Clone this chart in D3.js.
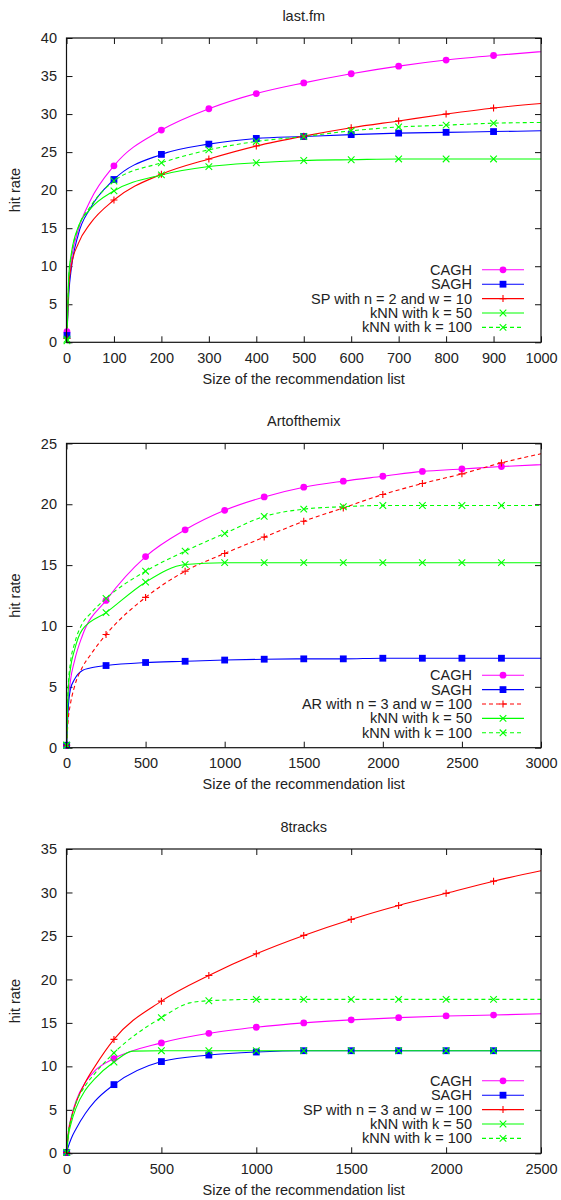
<!DOCTYPE html>
<html lang="en">
<head>
<meta charset="UTF-8">
<title>hit rate vs size of the recommendation list</title>
<script src="https://d3js.org/d3.v7.min.js"></script>
<style>
  body { margin: 0; background: #fff; }
</style>
</head>
<body>
<script>
var width = 561, height = 1200;
var plotLeft = 66.5, plotRight = 541, plotHeight = 304.3;
var font = "'Liberation Sans', Arial, Helvetica, sans-serif";
var fontSize = 14.5;

// ---- last.fm ----
var lastfmX     = [1, 5, 10, 25, 50, 100, 200, 300, 400, 500, 600, 700, 800, 900, 1000];
var lastfmMarks = [1, 100, 200, 300, 400, 500, 600, 700, 800, 900];
var lastfmCAGH   = [1.4, 8, 10.8, 14.8, 18.6, 23.2, 27.9, 30.7, 32.7, 34.1, 35.3, 36.3, 37.1, 37.7, 38.2];
var lastfmSAGH   = [0.9, 6.5, 9.6, 14.2, 17.6, 21.4, 24.7, 26.05, 26.8, 27.05, 27.3, 27.5, 27.6, 27.7, 27.8];
var lastfmSP     = [0.5, 7.5, 10, 13, 15.6, 18.7, 22.1, 24.1, 25.8, 27.1, 28.2, 29.1, 30.0, 30.8, 31.4];
var lastfmKnn50  = [0.2, 9, 11.6, 15.2, 17.5, 19.9, 22.0, 23.1, 23.6, 23.9, 24.0, 24.1, 24.1, 24.1, 24.1];
var lastfmKnn100 = [0.4, 8.6, 11.3, 15.1, 17.8, 21.2, 23.6, 25.3, 26.4, 27.05, 27.8, 28.3, 28.55, 28.8, 28.9];

// ---- Artofthemix ----
var artX     = [1, 10, 25, 50, 100, 150, 250, 500, 750, 1000, 1250, 1500, 1750, 2000, 2250, 2500, 2750, 3000];
var artMarks = [1, 250, 500, 750, 1000, 1250, 1500, 1750, 2000, 2250, 2500, 2750];
var artCAGH   = [0.2, 3.5, 5.5, 7.1, 9.2, null, 12.1, 15.7, 17.9, 19.5, 20.6, 21.4, 21.9, 22.3, 22.7, 22.9, 23.1, 23.25];
var artSAGH   = [0.2, 3.0, 4.8, 5.6, 6.35, 6.55, 6.75, 7.0, 7.1, 7.2, 7.27, 7.3, 7.3, 7.35, 7.35, 7.35, 7.35, 7.35];
var artAR     = [0.2, 2.2, 3.6, 5.0, 6.6, 7.6, 9.3, 12.35, 14.5, 15.96, 17.3, 18.6, 19.7, 20.8, 21.7, 22.5, 23.4, 24.15];
var artKnn50  = [0.2, 4.5, 6.5, 8.0, 9.7, null, 11.1, 13.6, 15.05, 15.2, 15.2, 15.2, 15.2, 15.2, 15.2, 15.2, 15.2, 15.2];
var artKnn100 = [0.2, 4.8, 7.0, 8.5, 10.2, 11.0, 12.27, 14.5, 16.15, 17.6, 19.0, 19.6, 19.8, 19.9, 19.9, 19.9, 19.9, 19.9];

// ---- 8tracks ----
var tracksX     = [1, 10, 25, 50, 100, 150, 250, 350, 500, 650, 750, 1000, 1250, 1500, 1750, 2000, 2250, 2500];
var tracksMarks = [1, 250, 500, 750, 1000, 1250, 1500, 1750, 2000, 2250];
var tracksCAGH   = [0.1, 2.5, 4.2, 6.0, 8.2, 9.5, 10.9, null, 12.7, null, 13.8, 14.5, 15.0, 15.35, 15.6, 15.8, 15.9, 16.05];
var tracksSAGH   = [0.1, 0.8, 1.7, 2.8, 4.6, 6.0, 7.9, null, 10.55, null, 11.3, 11.65, 11.8, 11.8, 11.8, 11.8, 11.8, 11.8];
var tracksSP     = [0.1, 2.3, 4.0, 5.8, 8.2, 10.0, 13.1, null, 17.5, null, 20.45, 22.95, 25.06, 26.9, 28.5, 29.9, 31.3, 32.5];
var tracksKnn50  = [0.1, 2.0, 3.5, 5.2, 7.3, 8.6, 10.5, 11.75, 11.8, null, 11.8, 11.8, 11.8, 11.8, 11.8, 11.8, 11.8, 11.8];
var tracksKnn100 = [0.1, 2.5, 4.0, 5.8, 7.8, 9.2, 11.55, null, 15.6, 17.3, 17.55, 17.7, 17.7, 17.7, 17.7, 17.7, 17.7, 17.7];

var magenta = "#ff00ff", blue = "#0000ff", red = "#ff0000", green = "#00ff00";

var panels = [
  { title: "last.fm", top: 38, xMax: 1000, xStep: 100, yMax: 40, xs: lastfmX, marks: lastfmMarks,
    series: [
      { name: "CAGH", values: lastfmCAGH, color: magenta, sym: "circle" },
      { name: "SAGH", values: lastfmSAGH, color: blue, sym: "square" },
      { name: "SP with n = 2 and w = 10", values: lastfmSP, color: red, sym: "plus" },
      { name: "kNN with k = 50", values: lastfmKnn50, color: green, sym: "cross" },
      { name: "kNN with k = 100", values: lastfmKnn100, color: green, sym: "cross", dash: "4,3" }
    ] },
  { title: "Artofthemix", top: 443.4, xMax: 3000, xStep: 500, yMax: 25, xs: artX, marks: artMarks,
    series: [
      { name: "CAGH", values: artCAGH, color: magenta, sym: "circle" },
      { name: "SAGH", values: artSAGH, color: blue, sym: "square" },
      { name: "AR with n = 3 and w = 100", values: artAR, color: red, sym: "plus", dash: "4,3" },
      { name: "kNN with k = 50", values: artKnn50, color: green, sym: "cross" },
      { name: "kNN with k = 100", values: artKnn100, color: green, sym: "cross", dash: "4,3" }
    ] },
  { title: "8tracks", top: 849, xMax: 2500, xStep: 500, yMax: 35, xs: tracksX, marks: tracksMarks,
    series: [
      { name: "CAGH", values: tracksCAGH, color: magenta, sym: "circle" },
      { name: "SAGH", values: tracksSAGH, color: blue, sym: "square" },
      { name: "SP with n = 3 and w = 100", values: tracksSP, color: red, sym: "plus" },
      { name: "kNN with k = 50", values: tracksKnn50, color: green, sym: "cross" },
      { name: "kNN with k = 100", values: tracksKnn100, color: green, sym: "cross", dash: "4,3" }
    ] }
];

var svg = d3.select("body").append("svg")
  .attr("width", width)
  .attr("height", height)
  .style("font-family", font);

function drawMarker(g, sym, color, cx, cy) {
  if (sym == "circle") {
    g.append("circle").attr("cx", cx).attr("cy", cy).attr("r", 3.4).attr("fill", color);
  } else if (sym == "square") {
    g.append("rect").attr("x", cx - 3.4).attr("y", cy - 3.4).attr("width", 6.8).attr("height", 6.8).attr("fill", color);
  } else if (sym == "plus") {
    g.append("path").attr("d", "M" + (cx - 3.5) + "," + cy + "H" + (cx + 3.5) + "M" + cx + "," + (cy - 3.5) + "V" + (cy + 3.5))
      .attr("stroke", color).attr("stroke-width", 1.1).attr("fill", "none");
  } else {
    g.append("path").attr("d", "M" + (cx - 3.3) + "," + (cy - 3.3) + "L" + (cx + 3.3) + "," + (cy + 3.3) +
                              "M" + (cx - 3.3) + "," + (cy + 3.3) + "L" + (cx + 3.3) + "," + (cy - 3.3))
      .attr("stroke", color).attr("stroke-width", 1.1).attr("fill", "none");
  }
}

panels.forEach(function(p, pi) {
  var top = p.top, bottom = p.top + plotHeight;
  var x = d3.scaleLinear().domain([0, p.xMax]).range([plotLeft, plotRight]);
  var y = d3.scaleLinear().domain([0, p.yMax]).range([bottom, top]);
  var xTicks = d3.range(0, p.xMax + 1, p.xStep);
  var yTicks = d3.range(0, p.yMax + 1, 5);

  var g = svg.append("g");

  // title and axis labels
  g.append("text").attr("x", (plotLeft + plotRight) / 2).attr("y", top - 22).attr("dy", "0.35em")
    .attr("text-anchor", "middle").attr("font-size", fontSize).attr("fill", "#222").text(p.title);
  g.append("text").attr("x", (plotLeft + plotRight) / 2).attr("y", bottom + 36.5).attr("dy", "0.35em")
    .attr("text-anchor", "middle").attr("font-size", fontSize).attr("fill", "#222").text("Size of the recommendation list");
  g.append("text").attr("transform", "translate(15," + ((top + bottom) / 2) + ") rotate(-90)").attr("dy", "0.35em")
    .attr("text-anchor", "middle").attr("font-size", fontSize).attr("fill", "#222").text("hit rate");

  // axes with inward ticks on all four sides
  var axes = [
    g.append("g").attr("transform", "translate(0," + bottom + ")")
      .call(d3.axisBottom(x).tickValues(xTicks).tickFormat(d3.format("d")).tickSizeInner(-6).tickSizeOuter(0).tickPadding(10)),
    g.append("g").attr("transform", "translate(0," + top + ")")
      .call(d3.axisTop(x).tickValues(xTicks).tickSizeInner(-6).tickSizeOuter(0).tickFormat("")),
    g.append("g").attr("transform", "translate(" + plotLeft + ",0)")
      .call(d3.axisLeft(y).tickValues(yTicks).tickFormat(d3.format("d")).tickSizeInner(-6).tickSizeOuter(0).tickPadding(9.5)),
    g.append("g").attr("transform", "translate(" + plotRight + ",0)")
      .call(d3.axisRight(y).tickValues(yTicks).tickSizeInner(-6).tickSizeOuter(0).tickFormat(""))
  ];
  axes.forEach(function(a) {
    a.attr("font-size", fontSize).attr("font-family", font);
    a.select(".domain").remove();
    a.selectAll(".tick line").attr("stroke", "#111");
    a.selectAll(".tick text").attr("fill", "#222");
  });

  // clip
  var clipId = "clip" + pi;
  svg.append("clipPath").attr("id", clipId).append("rect")
    .attr("x", plotLeft).attr("y", top).attr("width", plotRight - plotLeft).attr("height", plotHeight);

  var line = d3.line()
    .x(function(d) { return x(d[0]); })
    .y(function(d) { return y(d[1]); })
    .curve(d3.curveMonotoneX);

  var plot = g.append("g").attr("clip-path", "url(#" + clipId + ")");
  p.series.forEach(function(s) {
    var pts = p.xs.map(function(v, i) { return [v, s.values[i]]; })
      .filter(function(d) { return d[1] != null; });
    plot.append("path").datum(pts)
      .attr("d", line)
      .attr("fill", "none")
      .attr("stroke", s.color)
      .attr("stroke-width", 1.1)
      .attr("stroke-dasharray", s.dash || null);
  });

  var markG = g.append("g");
  p.series.forEach(function(s) {
    p.xs.forEach(function(v, i) {
      if (p.marks.indexOf(v) < 0 || s.values[i] == null) return;
      drawMarker(markG, s.sym, s.color, x(v), y(s.values[i]));
    });
  });

  // frame
  g.append("rect").attr("x", plotLeft).attr("y", top)
    .attr("width", plotRight - plotLeft).attr("height", plotHeight)
    .attr("fill", "none").attr("stroke", "#111").attr("stroke-width", 1.2);

  // legend
  var leg = g.append("g");
  p.series.forEach(function(s, i) {
    var ly = bottom - 72.5 + i * 14.4;
    leg.append("text").attr("x", 472).attr("y", ly).attr("dy", "0.35em")
      .attr("text-anchor", "end").attr("font-size", fontSize).attr("fill", "#222").text(s.name);
    leg.append("line").attr("x1", 482).attr("x2", 524).attr("y1", ly).attr("y2", ly)
      .attr("stroke", s.color).attr("stroke-width", 1.1).attr("stroke-dasharray", s.dash || null);
    drawMarker(leg, s.sym, s.color, 503, ly);
  });
});
</script>
</body>
</html>
